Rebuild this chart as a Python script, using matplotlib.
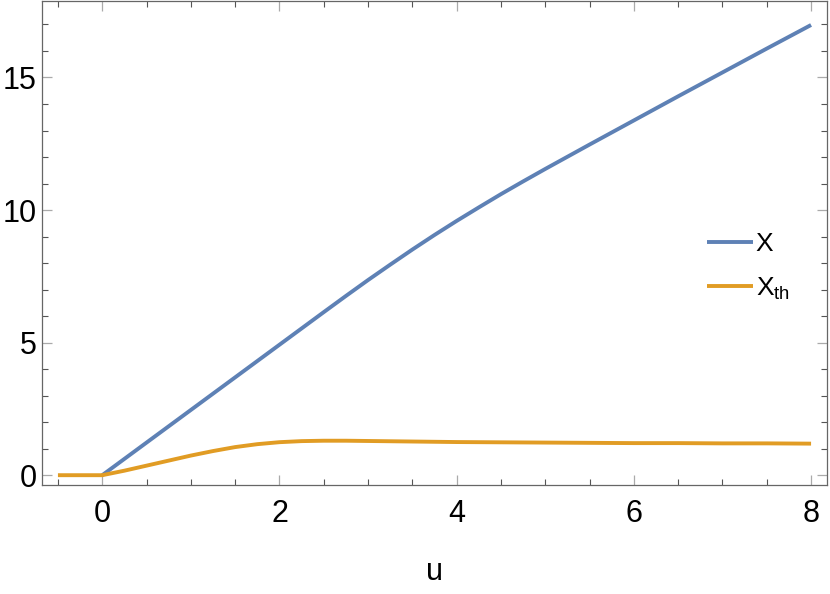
#!/usr/bin/env python3
"""
plot.py
-------
Redraws the X / X_th versus u curves in a Mathematica-like frame.
Saves out.png (830x594).
"""

import matplotlib
matplotlib.use("Agg")
import matplotlib.pyplot as plt
from matplotlib.ticker import MultipleLocator

# === Data ===
u_x = [0.0, 0.5, 1.0, 1.5, 2.0, 2.5, 2.75, 3.0, 3.25, 3.5, 3.75, 4.0,
       4.25, 4.5, 4.75, 5.0, 5.5, 6.0, 6.5, 7.0, 7.5, 8.0]
x_vals = [0.0, 1.23, 2.46, 3.69, 4.92, 6.15, 6.76, 7.36, 7.94, 8.51, 9.06, 9.59,
          10.1, 10.6, 11.08, 11.55, 12.47, 13.38, 14.29, 15.19, 16.09, 16.98]

u_th = [-0.5, 0.0, 0.25, 0.5, 0.75, 1.0, 1.25, 1.5, 1.75, 2.0, 2.25,
        2.5, 2.75, 3.0, 3.5, 4.0, 4.5, 5.0, 5.5, 6.0, 6.5, 7.0, 7.5, 8.0]
x_th_vals = [0.0, 0.0, 0.17, 0.36, 0.55, 0.74, 0.91, 1.06, 1.17, 1.245, 1.285,
             1.30, 1.30, 1.29, 1.27, 1.25, 1.24, 1.23, 1.22, 1.21, 1.21,
             1.20, 1.20, 1.19]

LABELS = ["X", r"$\mathregular{X_{th}}$"]
COLORS = ["#5E81B5", "#E19C24"]
# ====================


def main():
    plt.rcParams["font.family"] = ["Liberation Sans", "DejaVu Sans"]
    plt.rcParams["mathtext.fontset"] = "custom"
    plt.rcParams["mathtext.rm"] = "Liberation Sans"

    fig = plt.figure(figsize=(8.3, 5.94), dpi=100)
    ax = fig.add_axes([0.0506, 0.1835, 0.9458, 0.8155])

    ax.plot(u_x, x_vals, color=COLORS[0], lw=2.8, label=LABELS[0],
            solid_capstyle="butt", solid_joinstyle="round")
    ax.plot(u_th, x_th_vals, color=COLORS[1], lw=2.8, label=LABELS[1],
            solid_capstyle="butt", solid_joinstyle="round")

    ax.set_xlim(-0.68, 8.18)
    ax.set_ylim(-0.37, 17.9)

    # --- Frame and ticks, Mathematica style ---
    for sp in ax.spines.values():
        sp.set_color("#666666")
        sp.set_linewidth(0.9)

    ax.xaxis.set_major_locator(MultipleLocator(2))
    ax.xaxis.set_minor_locator(MultipleLocator(0.5))
    ax.yaxis.set_major_locator(MultipleLocator(5))
    ax.yaxis.set_minor_locator(MultipleLocator(1))

    ax.tick_params(which="both", direction="in", top=True, right=True,
                   labelsize=22, labelcolor="black")
    ax.tick_params(which="major", length=7, width=0.9, color="#aaaaaa")
    ax.tick_params(which="minor", length=4.3, width=0.8, color="#555555")
    ax.tick_params(axis="x", which="major", pad=10)
    ax.tick_params(axis="y", which="major", pad=4)

    ax.set_xlabel("u", fontsize=22, labelpad=20)

    leg = ax.legend(loc="upper left", bbox_to_anchor=(0.83, 0.55),
                    frameon=False, fontsize=19, handlelength=1.75,
                    handletextpad=0.1, labelspacing=0.75, borderpad=0)
    for line in leg.get_lines():
        line.set_linewidth(2.8)

    fig.savefig("out.png", dpi=100)
    print("[✓] Saved out.png")


if __name__ == "__main__":
    main()
